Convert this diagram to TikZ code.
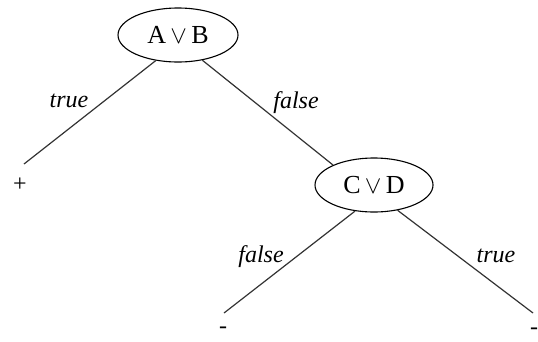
\documentclass[tikz,border=0pt]{standalone}
\usepackage{fontspec}
\setmainfont{Liberation Serif}
\usetikzlibrary{shapes.geometric}
\begin{document}
\begin{tikzpicture}[x=1pt,y=-1pt,
  every node/.style={font=\fontsize{24}{28}\selectfont},
  test/.style={draw,ellipse,line width=1.1pt,inner sep=0pt,font=\fontsize{26}{30}\selectfont},
  branch/.style={line width=1.2pt,black!80},
  lbl/.style={font=\fontsize{24}{28}\selectfont\itshape,anchor=base},
  leaf/.style={inner sep=0pt}]
\useasboundingbox (0,0) rectangle (538,341);
\node[test,minimum width=120pt,minimum height=54pt] (AB) at (178,35) {A\,$\vee$\,B};
\node[test,minimum width=118pt,minimum height=54pt] (CD) at (374,185) {C\,$\vee$\,D};
\coordinate (e1) at (24,164);
\coordinate (e3) at (224,313);
\coordinate (e4) at (533,313);
\node[leaf] (plus) at (20,185) {+};
\node[leaf] (m1) at (223,330) {-};
\node[leaf] (m2) at (534,331) {-};
\draw[branch] (AB.229) -- (e1);
\draw[branch] (AB.314) -- (CD.154);
\draw[branch] (CD.234) -- (e3);
\draw[branch] (CD.313) -- (e4);
\node[lbl] (t1) at (69,107) {true};
\node[lbl] (f1) at (296,108) {false};
\node[lbl] (f2) at (261,262) {false};
\node[lbl] (t2) at (496,262) {true};
\end{tikzpicture}
\end{document}
